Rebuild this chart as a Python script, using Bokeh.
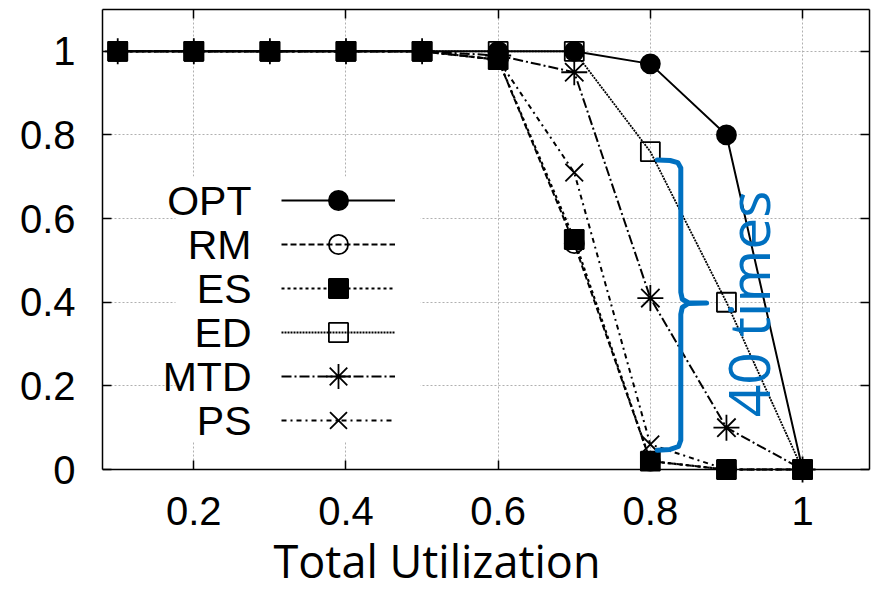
import numpy as np
from bokeh.plotting import figure
from bokeh.models import (Range1d, FixedTicker, LinearAxis, Legend, LegendItem,
                          Label, BoxAnnotation)
from bokeh.core.properties import value
from bokeh.embed import file_html
from bokeh.resources import INLINE

# ---------------- data ----------------
utilization = [0.1, 0.2, 0.3, 0.4, 0.5, 0.6, 0.7, 0.8, 0.9, 1.0]
opt = [1, 1, 1, 1, 1, 1.00, 1.00, 0.97, 0.80, 0]
rm  = [1, 1, 1, 1, 1, 0.98, 0.54, 0.02, 0.00, 0]
es  = [1, 1, 1, 1, 1, 0.98, 0.55, 0.02, 0.00, 0]
ed  = [1, 1, 1, 1, 1, 1.00, 1.00, 0.76, 0.40, 0]
mtd = [1, 1, 1, 1, 1, 0.99, 0.95, 0.41, 0.10, 0]
ps  = [1, 1, 1, 1, 1, 0.98, 0.71, 0.06, 0.00, 0]

series_names = ["OPT", "RM", "ES", "ED", "MTD", "PS"]
series_values = [opt, rm, es, ed, mtd, ps]

x_ticks = [0.2, 0.4, 0.6, 0.8, 1.0]
x_tick_labels = ["0.2", "0.4", "0.6", "0.8", "1"]
y_ticks = [0, 0.2, 0.4, 0.6, 0.8, 1.0]
y_tick_labels = ["0", "0.2", "0.4", "0.6", "0.8", "1"]
x_label = "Total Utilization"

# blue "}" annotation (data coordinates) and its text
annotation_text = "40 times"
annotation_pos = (0.9277, 0.396)
brace_x = [0.809, 0.826, 0.836, 0.840, 0.840, 0.842, 0.850, 0.874, 0.850, 0.842, 0.840, 0.840, 0.837, 0.826, 0.809]
brace_y = [0.740, 0.739, 0.734, 0.721, 0.424, 0.407, 0.399, 0.398, 0.397, 0.388, 0.371, 0.070, 0.055, 0.048, 0.046]

# ---------------- styles ----------------
styles = {
    "OPT": dict(dash="solid",    marker="circle",   fill="black", size=19, lw=2.0, lg=48),
    "RM":  dict(dash="6 3",      marker="circle",   fill=None,    size=19, lw=2.0, lg=48),
    "ES":  dict(dash="3 3",      marker="square",   fill="black", size=19, lw=2.2, lg=48),
    "ED":  dict(dash="2 1",      marker="square",   fill=None,    size=19, lw=1.8, lg=48),
    "MTD": dict(dash="10 3 2 3", marker="asterisk", fill=None,    size=26, lw=2.0, lg=62),
    "PS":  dict(dash="5 4 2 4",  marker="x",        fill=None,    size=25, lw=2.0, lg=60),
}
TICK_FONT = "Liberation Sans"
BLUE = "#0070C0"
Y_LOW = -0.2941   # frame extends below y=0 to host the tick labels and axis title
FRAME_H = 592 - 9  # frame height in pixels

p = figure(width=872, height=592,
           x_range=Range1d(0.08, 1.088), y_range=Range1d(Y_LOW, 1.1),
           output_backend="svg", toolbar_location=None,
           min_border_left=102, min_border_right=3,
           min_border_top=9, min_border_bottom=0)
p.background_fill_color = "white"
p.border_fill_color = "white"
p.outline_line_color = None

# axes
xa, ya = p.xaxis[0], p.yaxis[0]
xa.fixed_location = 0
ya.bounds = (0, 1.1)
xa.ticker = FixedTicker(ticks=x_ticks)
ya.ticker = FixedTicker(ticks=y_ticks)
xa.major_label_overrides = {t: l for t, l in zip(x_ticks, x_tick_labels)}
ya.major_label_overrides = {t: l for t, l in zip(y_ticks, y_tick_labels)}
for ax in (xa, ya):
    ax.major_label_text_font = TICK_FONT
    ax.major_label_text_font_size = "40px"
    ax.major_label_text_color = "black"
    ax.major_tick_in = 9
    ax.major_tick_out = 0
    ax.minor_tick_line_color = None
    ax.axis_line_width = 1.5
    ax.major_tick_line_width = 1.5
    ax.axis_line_color = "black"
xa.major_label_standoff = 27
ya.major_label_standoff = 27

for loc, ticks in (("right", y_ticks), ("above", x_ticks)):
    ax = LinearAxis(ticker=FixedTicker(ticks=ticks),
                    major_label_text_font_size="1px", major_label_text_color=None,
                    major_label_text_alpha=0,
                    major_label_standoff=0, major_tick_in=9, major_tick_out=0,
                    minor_tick_line_color=None, axis_line_width=1.5,
                    major_tick_line_width=1.5)
    if loc == "right":
        ax.bounds = (0, 1.1)
    p.add_layout(ax, loc)

# grid
for g in (p.xgrid[0], p.ygrid[0]):
    g.grid_line_color = "#b0b0b0"
    g.grid_line_dash = "2 2"
    g.grid_line_width = 1

# white mask below y=0 (hides vertical grid lines there)
p.add_layout(BoxAnnotation(left=0, right=770, left_units="screen", right_units="screen",
                           top=0, bottom=Y_LOW, fill_color="white", fill_alpha=1,
                           line_color=None, level="underlay"))

# white box behind the legend
p.add_layout(BoxAnnotation(left=73, right=318, top=416, bottom=151,
                           left_units="screen", right_units="screen",
                           top_units="screen", bottom_units="screen",
                           fill_color="white", fill_alpha=1, line_color=None))

# series
items = []
for name, ys in zip(series_names, series_values):
    st = styles[name]
    lr = p.line(utilization, ys, line_color="black", line_width=st["lw"],
                line_dash=st["dash"])
    sr = p.scatter(utilization, ys, marker=st["marker"], size=st["size"],
                   line_color="black", line_width=1.8,
                   fill_color=st["fill"], fill_alpha=1 if st["fill"] else 0)
    items.append(LegendItem(label=value(" "), renderers=[lr, sr]))

# brace annotation
p.line(brace_x, brace_y, line_color=BLUE, line_width=5, line_join="round", line_cap="round")
p.add_layout(Label(x=annotation_pos[0], y=annotation_pos[1], text=annotation_text,
                   angle=np.pi / 2, text_align="center", text_baseline="middle",
                   text_font="Open Sans", text_font_size="57px", text_color=BLUE))

# legend: one single-row legend per series (samples), texts to their left
ROW = 44
FIRST_ROW_FROM_TOP = 191   # row centre, pixels below the frame top
common = dict(orientation="vertical", glyph_width=114, padding=0, margin=0, spacing=0,
              label_standoff=0, label_width=0, label_height=0,
              label_text_font_size="1px", label_text_color=None, label_text_alpha=0,
              background_fill_alpha=0, border_line_color=None)
for i, (name, item) in enumerate(zip(series_names, items)):
    gh = styles[name]["lg"]
    centre = FRAME_H - (FIRST_ROW_FROM_TOP + i * ROW)
    p.add_layout(Legend(items=[item], location=(179, centre - gh / 2),
                        glyph_height=gh, **common))
    p.add_layout(Label(x=149, y=centre, x_units="screen", y_units="screen",
                       text=name, text_align="right", text_baseline="middle",
                       text_font=TICK_FONT, text_font_size="41px", text_color="black"))

# x-axis title, left-shifted like the reference (kept fully inside the canvas)
p.add_layout(Label(x=171, y=32, x_units="screen", y_units="screen",
                   text=x_label, text_align="left", text_baseline="middle",
                   text_font="Open Sans", text_font_size="45px", text_color="black"))

open("out.html", "w").write(file_html(p, INLINE))
